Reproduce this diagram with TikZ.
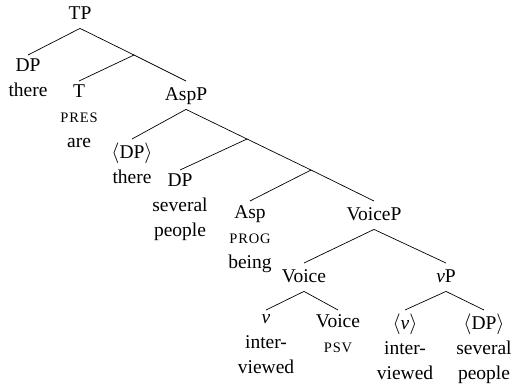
\documentclass[tikz,border=0pt]{standalone}
\usepackage{fontspec}
\setmainfont{Liberation Serif}
\newfontfamily\scfont[LetterSpace=6]{Liberation Serif}
\usetikzlibrary{positioning}
\newcommand{\feat}[1]{{\scfont\fontsize{14.5}{16}\selectfont #1}}
\newcommand{\trace}[1]{$\langle$#1$\rangle$}

\tikzset{
  phrase/.style={anchor=north, inner xsep=0pt, inner ysep=4pt, text height=15pt, text depth=5pt},
  leaf/.style={anchor=north, inner xsep=0pt, inner ysep=4pt, align=center,
    execute at begin node={\rule{0pt}{15pt}}},
  branch/.style={line width=0.7pt}
}

\begin{document}
\begin{tikzpicture}[x=1pt, y=-1pt, font=\fontsize{19.5}{25}\selectfont]
  \useasboundingbox (0,0) rectangle (514,389);

  % top of the tree
  \node[phrase] (tp) at (80,0) {TP};
  \node[leaf] (dpa) at (28,55) {DP\\there};
  \coordinate (b1) at (134,55);
  \node[leaf] (t) at (79,81) {T\\\feat{PRES}\\are};
  \node[phrase] (aspp) at (186,81) {AspP};

  % aspect spine
  \node[leaf] (dpb) at (132,139) {\trace{DP}\\there};
  \coordinate (b2) at (247,139);
  \node[leaf] (dpc) at (180,170) {DP\\several\\people};
  \coordinate (b3) at (311,170);
  \node[leaf] (asp) at (250,201) {Asp\\\feat{PROG}\\being};
  \node[phrase] (voicep) at (374,201) {VoiceP};

  % voice and little v
  \node[phrase] (voicea) at (304,263) {Voice};
  \node[phrase] (vp) at (446,263) {\textit{v}P};
  \node[leaf] (vlo) at (266,310) {\textit{v}\\inter-\\viewed};
  \node[leaf] (voiceb) at (338,310) {Voice\\\feat{PSV}};
  \node[leaf] (vtr) at (405,310) {\trace{\textit{v}}\\inter-\\viewed};
  \node[leaf] (dpd) at (484,310) {\trace{DP}\\several\\people};

  \draw[branch] (tp.south) -- (dpa.north);
  \draw[branch] (tp.south) -- (b1) -- (aspp.north);
  \draw[branch] (b1) -- (t.north);
  \draw[branch] (aspp.south) -- (dpb.north);
  \draw[branch] (aspp.south) -- (b2) -- (b3) -- (voicep.north);
  \draw[branch] (b2) -- (dpc.north);
  \draw[branch] (b3) -- (asp.north);
  \draw[branch] (voicep.south) -- (voicea.north);
  \draw[branch] (voicep.south) -- (vp.north);
  \draw[branch] (voicea.south) -- (vlo.north);
  \draw[branch] (voicea.south) -- (voiceb.north);
  \draw[branch] (vp.south) -- (vtr.north);
  \draw[branch] (vp.south) -- (dpd.north);
\end{tikzpicture}
\end{document}
